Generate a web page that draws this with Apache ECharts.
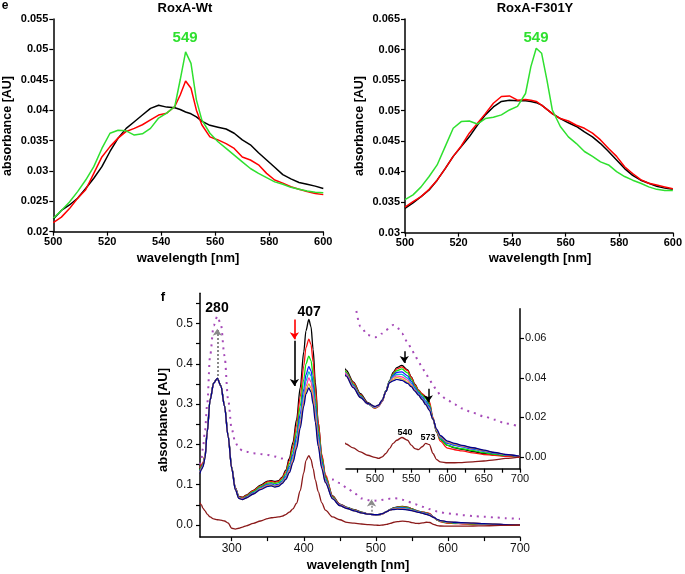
<!DOCTYPE html>
<html>
<head>
<meta charset="utf-8">
<script src="https://cdn.jsdelivr.net/npm/echarts@6.0.0/dist/echarts.min.js"></script>
<style>
html, body { margin: 0; padding: 0; background: #fff; }
#container { width: 685px; height: 574px; }
</style>
</head>
<body>
<div id="container"></div>
<script>
// panel e: two small spectra, 500-600 nm
const eWl = [500,503,506,509,512,515,518,521,524,527,530,533,536,539,542,545,547,549,551,553,555,558,561,564,567,570,573,576,579,582,585,588,591,594,597,600];
const wtBlack = [.0221,.0235,.0244,.0255,.0271,.0288,.0307,.0332,.0354,.0370,.0381,.0392,.0403,.0408,.0405,.0404,.0401,.0397,.0394,.0389,.0382,.0375,.0372,.0369,.0362,.0351,.0343,.0330,.0318,.0306,.0294,.0287,.0281,.0278,.0275,.0271];
const wtRed = [.0215,.0224,.0238,.0255,.0269,.0296,.0323,.0340,.0354,.0365,.0370,.0376,.0384,.0392,.0395,.0406,.0425,.0448,.0436,.0400,.0376,.0356,.0351,.0345,.0337,.0323,.0318,.0310,.0296,.0285,.0280,.0274,.0270,.0266,.0263,.0261];
const wtGreen = [.0222,.0235,.0249,.0266,.0285,.0307,.0337,.0362,.0367,.0366,.0359,.0361,.0370,.0387,.0395,.0406,.0450,.0496,.0477,.0417,.0384,.0362,.0348,.0337,.0326,.0315,.0304,.0296,.0289,.0282,.0278,.0273,.0270,.0267,.0265,.0264];
const mutBlack = [.0340,.0349,.0359,.0370,.0386,.0405,.0425,.0441,.0457,.0476,.0493,.0506,.0515,.0517,.0516,.0516,.0515,.0513,.0509,.0502,.0495,.0487,.0480,.0474,.0465,.0457,.0446,.0433,.0419,.0405,.0394,.0386,.0381,.0376,.0373,.0371];
const mutRed = [.0342,.0351,.0359,.0371,.0386,.0405,.0425,.0442,.0463,.0479,.0495,.0512,.0523,.0524,.0517,.0518,.0517,.0515,.0509,.0502,.0495,.0487,.0483,.0476,.0471,.0463,.0452,.0438,.0425,.0408,.0397,.0387,.0381,.0378,.0375,.0372];
const mutGreen = [.0354,.0362,.0375,.0392,.0411,.0441,.0471,.0482,.0483,.0478,.0487,.0489,.0493,.0501,.0507,.0528,.0572,.0602,.0594,.0550,.0501,.0474,.0457,.0446,.0433,.0425,.0416,.0411,.0400,.0392,.0386,.0381,.0375,.0371,.0369,.0369];

// panel f: titration spectra, 256-700 nm
const fWl = [256,258,260,263,266,270,275,280,285,290,295,300,305,310,315,320,330,340,350,355,360,365,370,375,380,385,390,395,400,403,407,410,413,416,420,425,430,440,450,460,470,480,490,500,505,510,515,520,525,530,537,545,550,555,560,565,570,575,580,585,590,600,610,620,635,650,665,680,700];
const fBlack = [.138,.146,.152,.172,.233,.312,.353,.364,.346,.297,.223,.144,.093,.071,.069,.074,.086,.099,.109,.110,.108,.110,.119,.136,.165,.205,.262,.340,.430,.482,.510,.492,.435,.355,.255,.172,.122,.072,.052,.044,.038,.032,.0275,.0252,.0262,.0288,.0335,.0385,.0428,.0452,.0463,.0440,.0405,.0368,.0338,.0318,.0303,.0272,.0188,.0125,.0088,.0058,.0046,.0038,.0027,.0017,.0010,.0005,.0000];
const fRed = [.142,.150,.154,.172,.233,.312,.353,.364,.346,.297,.223,.143,.092,.070,.068,.073,.085,.097,.107,.108,.106,.108,.117,.132,.160,.196,.248,.318,.395,.440,.461,.448,.405,.340,.255,.175,.125,.071,.051,.043,.0375,.0315,.027,.0245,.0255,.028,.033,.038,.042,.0445,.0455,.0436,.0402,.0365,.0338,.0320,.0305,.0280,.0200,.0125,.0080,.0044,.0036,.0030,.0020,.0012,.0007,.0003,-.0002];
const fGreen = [.136,.145,.150,.170,.232,.311,.353,.364,.346,.296,.222,.142,.091,.069,.066,.071,.083,.095,.104,.105,.103,.105,.113,.127,.152,.185,.232,.295,.362,.400,.419,.408,.372,.315,.240,.166,.119,.069,.050,.043,.0368,.031,.0268,.0248,.0257,.0283,.0333,.0382,.0418,.0436,.0445,.0425,.0392,.0358,.0332,.0312,.0293,.0265,.0195,.0128,.0090,.0058,.0048,.0041,.0031,.0021,.0013,.0007,.0001];
const fBlue = [.133,.142,.148,.168,.231,.310,.352,.364,.345,.295,.221,.141,.090,.068,.065,.069,.080,.092,.101,.102,.099,.101,.109,.122,.145,.175,.218,.275,.337,.373,.393,.383,.350,.297,.226,.157,.113,.067,.049,.042,.0362,.0306,.0268,.0250,.0258,.0284,.0332,.0380,.0412,.0427,.0430,.0410,.0382,.0350,.0325,.0304,.0282,.0255,.0192,.0132,.0097,.0068,.0058,.0050,.0039,.0028,.0018,.0010,.0002];
const fCyan = [.132,.141,.147,.168,.231,.310,.352,.364,.345,.295,.221,.141,.089,.067,.064,.068,.079,.091,.099,.100,.097,.099,.107,.119,.140,.168,.208,.262,.323,.358,.380,.370,.338,.287,.218,.152,.110,.066,.049,.042,.0358,.0303,.0268,.0251,.0259,.0285,.0332,.0378,.0405,.0418,.0418,.0398,.0372,.0343,.0320,.0298,.0274,.0248,.0190,.0134,.0100,.0072,.0061,.0053,.0042,.0030,.0020,.0011,.0002];
const fMagenta = [.131,.140,.146,.167,.230,.310,.352,.364,.345,.295,.220,.140,.089,.067,.064,.068,.078,.090,.098,.099,.096,.098,.105,.116,.135,.162,.200,.252,.310,.344,.365,.355,.324,.275,.209,.147,.108,.066,.049,.042,.0355,.0301,.0268,.0252,.0259,.0285,.0331,.0377,.0400,.0410,.0405,.0388,.0365,.0338,.0316,.0293,.0268,.0242,.0189,.0135,.0102,.0075,.0064,.0055,.0044,.0032,.0021,.0011,.0002];
const fYellow = [.130,.139,.145,.167,.230,.310,.352,.364,.345,.295,.220,.140,.088,.066,.063,.067,.077,.089,.097,.098,.095,.097,.104,.114,.132,.158,.195,.245,.302,.334,.350,.340,.310,.264,.201,.143,.106,.066,.048,.041,.0352,.0300,.0270,.0254,.0261,.0286,.0331,.0376,.0392,.0402,.0395,.0378,.0360,.0334,.0312,.0289,.0264,.0238,.0188,.0135,.0104,.0077,.0066,.0057,.0045,.0033,.0021,.0011,.0002];
const fNavy = [.128,.138,.144,.166,.230,.310,.352,.364,.345,.295,.220,.140,.088,.066,.063,.067,.077,.088,.096,.097,.094,.096,.103,.113,.130,.155,.190,.240,.295,.325,.340,.330,.300,.255,.195,.140,.105,.065,.048,.041,.0350,.0300,.0270,.0255,.0262,.0287,.0330,.0375,.0385,.0392,.0387,.0372,.0355,.0333,.0312,.0290,.0264,.0235,.0190,.0140,.0108,.0080,.0068,.0058,.0046,.0034,.0022,.0012,.0002];
const fDiff = [.055,.050,.042,.035,.027,.020,.015,.013,.012,.010,.005,-.008,-.010,-.008,-.005,-.002,.004,.010,.016,.018,.019,.020,.022,.026,.032,.040,.054,.085,.130,.160,.172,.163,.140,.112,.083,.055,.037,.020,.013,.0065,.0045,.0025,.0008,-.0003,-.0008,.0000,.0017,.0042,.0068,.0084,.0098,.0084,.0059,.0042,.0037,.0051,.0068,.0062,.0017,-.0014,-.0025,-.0030,-.0030,-.0029,-.0025,-.0021,-.0015,-.0008,.0000];
const fDotted = [.150,.165,.190,.235,.300,.420,.495,.518,.498,.420,.312,.238,.205,.190,.185,.182,.178,.176,.174,.172,.170,.168,.165,.163,.160,null,null,null,null,null,null,null,null,null,null,null,.120,.113,.104,.092,.079,.066,.0617,.0605,.061,.0625,.064,.0655,.0667,.0659,.0625,.058,.0549,.0515,.0481,.0452,.0422,.0392,.0363,.0337,.0313,.0287,.0265,.0245,.0223,.0205,.0188,.0169,.0152];

// tick labels
const fXTicks = [300,350,400,450,500,550,600,650,700];
const fXLabels = [300,400,500,600,700];
const fYTicks = [0,0.05,0.1,0.15,0.2,0.25,0.3,0.35,0.4,0.45,0.5,0.55];
const fYLabels = [0,0.1,0.2,0.3,0.4,0.5];
const inXTicks = [475,500,525,550,575,600,625,650,675,700];
const inXLabels = [500,550,600,650,700];
const inYLabels = [0,0.02,0.04,0.06];

const FONT = 'Liberation Sans, Arial, sans-serif';
const GREEN = '#2fe02f';

function pairs(xs, ys) {
    return xs.map(function(x, i) { return [x, ys[i]]; });
}

function axisBase() {
    return {
        type: 'value',
        splitLine: {show: false},
        axisLine: {show: true, onZero: false, lineStyle: {color: '#000', width: 1.5}},
        axisTick: {show: true, length: 4, lineStyle: {color: '#000', width: 1.2}}
    };
}

function eX(gi) {
    return Object.assign(axisBase(), {
        gridIndex: gi, min: 500, max: 600, interval: 20,
        axisLabel: {fontFamily: FONT, fontWeight: 'bold', fontSize: 11, color: '#000', margin: 5}
    });
}

function eY(gi, min, max) {
    return Object.assign(axisBase(), {
        gridIndex: gi, min: min, max: max, interval: 0.005,
        axisLabel: {fontFamily: FONT, fontWeight: 'bold', fontSize: 11, color: '#000', margin: 5,
            formatter: function(v) { return String(+v.toFixed(3)); }}
    });
}

function line(name, gi, xs, ys, color, width, extra) {
    return Object.assign({
        name: name, type: 'line', xAxisIndex: gi, yAxisIndex: gi,
        data: pairs(xs, ys), showSymbol: false, symbol: 'none',
        lineStyle: {color: color, width: width}, itemStyle: {color: color},
        silent: true, animation: false
    }, extra || {});
}

function peakLabel(items, color, size) {
    return {
        silent: true, symbol: 'rect', symbolSize: 1,
        itemStyle: {color: 'rgba(0,0,0,0)'},
        label: {show: true, position: 'inside', formatter: '{b}', color: color,
            fontFamily: FONT, fontWeight: 'bold', fontSize: size},
        data: items
    };
}

function arrows(items) {
    return {
        silent: true, symbol: ['none', 'arrow'], symbolSize: 7,
        label: {show: false}, emphasis: {disabled: true},
        data: items
    };
}

const smoothOpt = {smooth: 0.3, smoothMonotone: 'x'};
const dottedStyle = {lineStyle: {color: '#a64ab8', width: 2, type: [2, 5]}};

// titration steps, top to bottom at 407 nm
const bundle = [
    ['black', fBlack, '#000000'],
    ['red', fRed, '#ff1010'],
    ['green', fGreen, '#10e010'],
    ['blue', fBlue, '#1a1aff'],
    ['cyan', fCyan, '#00c0c8'],
    ['magenta', fMagenta, '#ff3fb0'],
    ['yellow', fYellow, '#d8b820'],
    ['navy', fNavy, '#000090']
];

let series = [
    line('wt black', 0, eWl, wtBlack, '#000', 1.5),
    line('wt red', 0, eWl, wtRed, '#ff0000', 1.5),
    line('wt green', 0, eWl, wtGreen, GREEN, 1.5, {
        markPoint: peakLabel([{name: '549', coord: [548.8, 0.0519]}], GREEN, 15)
    }),
    line('mut black', 1, eWl, mutBlack, '#000', 1.5),
    line('mut red', 1, eWl, mutRed, '#ff0000', 1.5),
    line('mut green', 1, eWl, mutGreen, GREEN, 1.5, {
        markPoint: peakLabel([{name: '549', coord: [548.9, 0.0619]}], GREEN, 15)
    })
];

// main panel f
series.push(line('dotted', 2, fWl, fDotted, '#a64ab8', 2, Object.assign({}, dottedStyle, smoothOpt)));
bundle.forEach(function(b) {
    series.push(line(b[0], 2, fWl, b[1], b[2], 1.3, smoothOpt));
});
series.push(line('difference', 2, fWl, fDiff, '#8b1a1a', 1.3, Object.assign({
    markPoint: peakLabel([
        {name: '280', coord: [279.6, 0.538]},
        {name: '407', coord: [407.4, 0.529]}
    ], '#000', 14),
    markLine: arrows([
        [{coord: [280, 0.37], lineStyle: {color: '#8a8a8a', width: 2, type: [2, 2]}}, {coord: [280, 0.487]}],
        [{coord: [387, 0.51], lineStyle: {color: '#ff0000', width: 1.6, type: 'solid'}}, {coord: [387, 0.461]}],
        [{coord: [387, 0.457], lineStyle: {color: '#000', width: 1.6, type: 'solid'}}, {coord: [387, 0.345]}],
        [{coord: [494, 0.033], lineStyle: {color: '#8a8a8a', width: 1.6, type: [2, 2]}}, {coord: [494, 0.063]}]
    ])
}, smoothOpt)));

// inset: same spectra, zoomed
series.push(line('dotted in', 3, fWl, fDotted, '#a64ab8', 2, Object.assign({}, dottedStyle, smoothOpt)));
bundle.forEach(function(b) {
    series.push(line(b[0] + ' in', 3, fWl, b[1], b[2], 1.3, smoothOpt));
});
series.push(line('difference in', 3, fWl, fDiff, '#8b1a1a', 1.3, Object.assign({
    markPoint: peakLabel([
        {name: '540', coord: [541.4, 0.0122]},
        {name: '573', coord: [573.1, 0.0100]}
    ], '#000', 9),
    markLine: arrows([
        [{coord: [540.4, 0.0535], lineStyle: {color: '#000', width: 1.5, type: 'solid'}}, {coord: [540.4, 0.0475]}],
        [{coord: [573.5, 0.0345], lineStyle: {color: '#000', width: 1.5, type: 'solid'}}, {coord: [573.5, 0.0277]}]
    ])
}, smoothOpt)));

function text(x, y, str, size, extra) {
    return Object.assign({
        type: 'text', x: x, y: y, silent: true,
        style: {text: str, font: 'bold ' + size + 'px ' + FONT, fill: '#000',
            align: 'center', verticalAlign: 'middle'}
    }, extra || {});
}

let option = {
    backgroundColor: '#fff',
    animation: false,
    grid: [
        {left: 53.3, top: 19, width: 270, height: 212.7},
        {left: 405, top: 19, width: 269.3, height: 213.7},
        {left: 200, top: 293.3, width: 320, height: 243.8},
        {left: 346, top: 308.7, width: 174, height: 160}
    ],
    xAxis: [
        eX(0),
        eX(1),
        Object.assign(axisBase(), {
            gridIndex: 2, min: 256, max: 700,
            axisTick: {show: true, length: 4, customValues: fXTicks, lineStyle: {color: '#000', width: 1.2}},
            axisLabel: {customValues: fXLabels, fontFamily: FONT, fontSize: 12, color: '#111', margin: 6}
        }),
        Object.assign(axisBase(), {
            gridIndex: 3, min: 460, max: 700,
            axisTick: {show: true, length: 4, customValues: inXTicks, lineStyle: {color: '#000', width: 1.2}},
            axisLabel: {customValues: inXLabels, fontFamily: FONT, fontSize: 11, color: '#111', margin: 5}
        })
    ],
    yAxis: [
        eY(0, 0.02, 0.055),
        eY(1, 0.03, 0.065),
        Object.assign(axisBase(), {
            gridIndex: 2, min: -0.03, max: 0.575,
            axisTick: {show: true, length: 4, customValues: fYTicks, lineStyle: {color: '#000', width: 1.2}},
            axisLabel: {customValues: fYLabels, fontFamily: FONT, fontSize: 12, color: '#111', margin: 7,
                formatter: function(v) { return v.toFixed(1); }}
        }),
        Object.assign(axisBase(), {
            gridIndex: 3, min: -0.006, max: 0.075, position: 'right',
            axisTick: {show: true, length: 4, customValues: inYLabels, lineStyle: {color: '#000', width: 1.2}},
            axisLabel: {customValues: inYLabels, fontFamily: FONT, fontSize: 11, color: '#111', margin: 5,
                formatter: function(v) { return v.toFixed(2); }}
        })
    ],
    graphic: [
        text(5, 6, 'e', 12),
        text(185, 8, 'RoxA-Wt', 13),
        text(535, 8, 'RoxA-F301Y', 13),
        text(188, 258, 'wavelength [nm]', 13),
        text(540, 258, 'wavelength [nm]', 13),
        text(8, 126, 'absorbance [AU]', 12.5, {rotation: Math.PI / 2}),
        text(360, 126, 'absorbance [AU]', 12.5, {rotation: Math.PI / 2}),
        text(163, 297, 'f', 13),
        text(163, 420, 'absorbance [AU]', 13, {rotation: Math.PI / 2}),
        text(358, 565, 'wavelength [nm]', 13)
    ],
    series: series
};

var myChart = echarts.init(document.getElementById('container'), null, {renderer: 'canvas'});
myChart.setOption(option);
</script>
</body>
</html>
